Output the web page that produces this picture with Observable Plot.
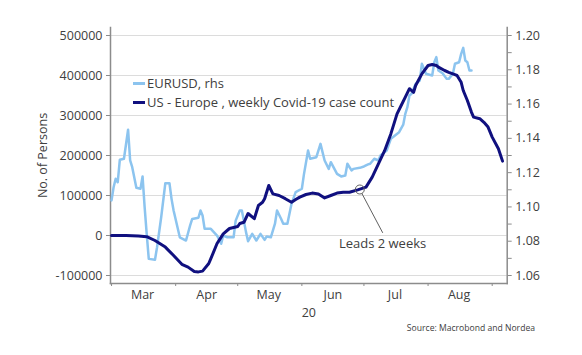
<!DOCTYPE html>
<html><head><meta charset="utf-8">
<script src="https://cdn.jsdelivr.net/npm/d3@7"></script>
<script src="https://cdn.jsdelivr.net/npm/@observablehq/plot@0.6"></script>
<style>
body{margin:0;background:#fff;font-family:'Open Sans',sans-serif;}
#wrap{position:relative;width:582px;height:355px;overflow:hidden;}
.legend{position:absolute;left:133px;top:74px;font-size:13px;color:#404040;line-height:19px;white-space:nowrap;}
.legend .sw{display:inline-block;width:12px;height:3px;vertical-align:middle;margin-right:2px;position:relative;top:-1px;}
.source{position:absolute;right:47px;top:322px;font-size:8.6px;color:#404040;white-space:nowrap;}
</style></head>
<body>
<div id="wrap">
  <div id="chart"></div>
  <div class="legend">
    <div><span class="sw" style="background:#8cc4ef"></span>EURUSD, rhs</div>
    <div><span class="sw" style="background:#10107f"></span>US - Europe , weekly Covid-19 case count</div>
  </div>
  <div class="source">Source: Macrobond and Nordea</div>
</div>
<script>
// US - Europe weekly Covid-19 case count (persons, left axis)
const caseDates = ["2020-03-01","2020-03-08","2020-03-14","2020-03-18","2020-03-22","2020-03-27","2020-03-31","2020-04-04","2020-04-07","2020-04-10",
"2020-04-12","2020-04-14","2020-04-17","2020-04-18","2020-04-21","2020-04-23","2020-04-24","2020-04-27","2020-05-01","2020-05-02",
"2020-05-04","2020-05-06","2020-05-09","2020-05-11","2020-05-13","2020-05-14","2020-05-16","2020-05-18","2020-05-21","2020-05-24",
"2020-05-27","2020-05-29","2020-05-31","2020-06-03","2020-06-06","2020-06-09","2020-06-12","2020-06-15","2020-06-18","2020-06-21",
"2020-06-24","2020-06-28","2020-07-02","2020-07-05","2020-07-08","2020-07-11","2020-07-14","2020-07-17","2020-07-19","2020-07-21",
"2020-07-23","2020-07-25","2020-07-26","2020-07-29","2020-08-01","2020-08-03","2020-08-05","2020-08-06","2020-08-09","2020-08-11",
"2020-08-14","2020-08-15","2020-08-17","2020-08-18","2020-08-20","2020-08-22","2020-08-23","2020-08-26","2020-08-28","2020-08-30",
"2020-09-01","2020-09-04","2020-09-06"];
const caseValues = [0,0,-1000,-3000,-12500,-29000,-50000,-72000,-79000,-90000,
-91000,-89000,-70000,-58000,-20000,-4000,4000,17500,22500,30000,
33000,55000,42000,75000,83000,92000,125000,104000,100000,92000,
83000,90000,96000,102500,106000,104000,94000,100000,106000,108000,
108000,114000,121000,146000,179000,212000,254000,304000,325000,346000,
367000,358000,375000,404000,425000,427500,425000,421000,412500,408000,
402000,400000,383000,362500,337500,308000,296000,292000,283000,271000,
246000,217000,186000];

// EURUSD (right axis)
const eurDates = ["2020-03-01","2020-03-02","2020-03-03","2020-03-04","2020-03-05","2020-03-07","2020-03-09","2020-03-10","2020-03-11","2020-03-13",
"2020-03-15","2020-03-16","2020-03-17","2020-03-18","2020-03-19","2020-03-22","2020-03-23","2020-03-25","2020-03-27","2020-03-29",
"2020-03-30","2020-03-31","2020-04-03","2020-04-06","2020-04-08","2020-04-09","2020-04-12","2020-04-13","2020-04-14","2020-04-15",
"2020-04-18","2020-04-21","2020-04-23","2020-04-24","2020-04-26","2020-04-29","2020-04-30","2020-05-02","2020-05-03","2020-05-05",
"2020-05-06","2020-05-08","2020-05-10","2020-05-12","2020-05-14","2020-05-15","2020-05-17","2020-05-19","2020-05-20","2020-05-22",
"2020-05-23","2020-05-25","2020-05-27","2020-05-29","2020-06-01","2020-06-02","2020-06-04","2020-06-05","2020-06-08","2020-06-10",
"2020-06-12","2020-06-14","2020-06-15","2020-06-18","2020-06-20","2020-06-22","2020-06-23","2020-06-25","2020-06-26","2020-06-29",
"2020-07-01","2020-07-03","2020-07-04","2020-07-06","2020-07-08","2020-07-09","2020-07-12","2020-07-14","2020-07-16","2020-07-18",
"2020-07-20","2020-07-21","2020-07-22","2020-07-23","2020-07-24","2020-07-26","2020-07-28","2020-07-29","2020-07-31","2020-08-03",
"2020-08-04","2020-08-05","2020-08-06","2020-08-08","2020-08-10","2020-08-11","2020-08-13","2020-08-14","2020-08-16","2020-08-17",
"2020-08-18","2020-08-19","2020-08-20","2020-08-21","2020-08-22"];
const eurValues = [1.1038,1.1115,1.1164,1.1144,1.1275,1.1281,1.1450,1.1271,1.1232,1.1112,
1.1106,1.1178,1.0999,1.0843,1.0697,1.0692,1.0765,1.0940,1.1138,1.1138,
1.1047,1.0979,1.0823,1.0804,1.0892,1.0930,1.0937,1.0979,1.0950,1.0872,
1.0872,1.0833,1.0785,1.0833,1.0823,1.0823,1.0920,1.0979,1.0979,1.0853,
1.0800,1.0843,1.0804,1.0843,1.0808,1.0828,1.0823,1.0902,1.0979,1.0930,
1.0902,1.0902,1.1018,1.1086,1.1106,1.1190,1.1329,1.1281,1.1290,1.1368,
1.1271,1.1222,1.1261,1.1193,1.1178,1.1183,1.1252,1.1213,1.1222,1.1228,
1.1236,1.1248,1.1252,1.1281,1.1271,1.1300,1.1329,1.1397,1.1417,1.1436,
1.1480,1.1543,1.1582,1.1650,1.1660,1.1718,1.1738,1.1835,1.1777,1.1767,
1.1844,1.1874,1.1796,1.1780,1.1747,1.1747,1.1777,1.1835,1.1844,1.1893,
1.1928,1.1854,1.1844,1.1796,1.1796];

// Axis ticks
const leftTicks = [-100000,0,100000,200000,300000,400000,500000];
const rightTicks = [1.06,1.07,1.08,1.09,1.10,1.11,1.12,1.13,1.14,1.15,1.16,1.17,1.18,1.19,1.20];
const monthStarts = ["2020-03-01","2020-04-01","2020-05-01","2020-06-01","2020-07-01","2020-08-01","2020-09-01"];
const monthLabels = ["2020-03-16","2020-04-16","2020-05-16","2020-06-16","2020-07-16","2020-08-16"];
const xDomain = ["2020-02-29T12:00Z","2020-09-08T06:00Z"];

// Annotation
const annotPoint = {date: "2020-06-29", value: 115000};
const annotLabel = {date: "2020-07-10", value: -20000, lineValue: 7500, text: "Leads 2 weeks"};

const parse = s => new Date(s.length === 10 ? s + "T00:00Z" : s);
const toLeft = v => -100000 + (v - 1.06) / 0.14 * 600000;
const fromLeft = y => 1.06 + (y + 100000) / 600000 * 0.14;

const cases = caseDates.map((d, i) => ({date: parse(d), value: caseValues[i]}));
const eur = eurDates.map((d, i) => ({date: parse(d), value: eurValues[i]}));
const ap = {date: parse(annotPoint.date), value: annotPoint.value};
const al = {date: parse(annotLabel.date), value: annotLabel.value, lineValue: annotLabel.lineValue, text: annotLabel.text};

const axisGray = "#8c8c8c";
const chart = Plot.plot({
  width: 582,
  height: 355,
  marginLeft: 110,
  marginRight: 75.3,
  marginTop: 27,
  marginBottom: 72,
  style: {fontFamily: "'Open Sans', sans-serif", fontSize: "12.5px", color: "#404040", background: "white", overflow: "visible"},
  x: {type: "utc", domain: xDomain.map(parse)},
  y: {domain: [-120000, 520000]},
  marks: [
    Plot.gridY(leftTicks, {stroke: "#dcdcdc", strokeOpacity: 1, strokeWidth: 1}),
    Plot.frame({anchor: "left", stroke: axisGray, strokeWidth: 1.5}),
    Plot.frame({anchor: "right", stroke: axisGray, strokeWidth: 1.5}),
    Plot.frame({anchor: "bottom", stroke: axisGray, strokeWidth: 1.5}),
    Plot.axisY(leftTicks, {anchor: "left", tickSize: 4, tickPadding: 4, stroke: axisGray, fill: "#404040",
      tickFormat: d => String(d), label: "No. of Persons", labelAnchor: "center", labelOffset: 72, labelArrow: "none"}),
    Plot.axisY(rightTicks.map(toLeft), {anchor: "right", tickSize: 4, tickPadding: 4, stroke: axisGray, fill: "#404040",
      tickFormat: y => { const v = Math.round(fromLeft(y) * 100); return v % 2 === 0 ? (v / 100).toFixed(2) : ""; }, label: null}),
    Plot.axisX(monthStarts.map(parse), {anchor: "bottom", tickSize: 3, stroke: axisGray, tickFormat: () => "", label: null}),
    Plot.axisX(monthLabels.map(parse), {anchor: "bottom", tickSize: 0, tickPadding: 7, fill: "#404040",
      tickFormat: d3.utcFormat("%b"), label: "20", labelAnchor: "center", labelOffset: 33, labelArrow: "none"}),
    Plot.line(eur, {x: "date", y: d => toLeft(d.value), stroke: "#8cc4ef", strokeWidth: 2.5, strokeLinejoin: "round"}),
    Plot.line(cases, {x: "date", y: "value", stroke: "#10107f", strokeWidth: 3, strokeLinejoin: "round"}),
    Plot.dot([ap], {x: "date", y: "value", r: 4.5, stroke: "#606060", fill: "none", strokeWidth: 1}),
    Plot.arrow([{...ap, ...{d2: al.date, v2: al.lineValue}}], {x1: "date", y1: "value", x2: "d2", y2: "v2", headLength: 0, insetStart: 4.5, stroke: "#606060", strokeWidth: 1}),
    Plot.text([al], {x: "date", y: "value", text: "text", fontSize: 13, fill: "#404040"})
  ]
});
document.getElementById("chart").appendChild(chart);
</script>
</body></html>
